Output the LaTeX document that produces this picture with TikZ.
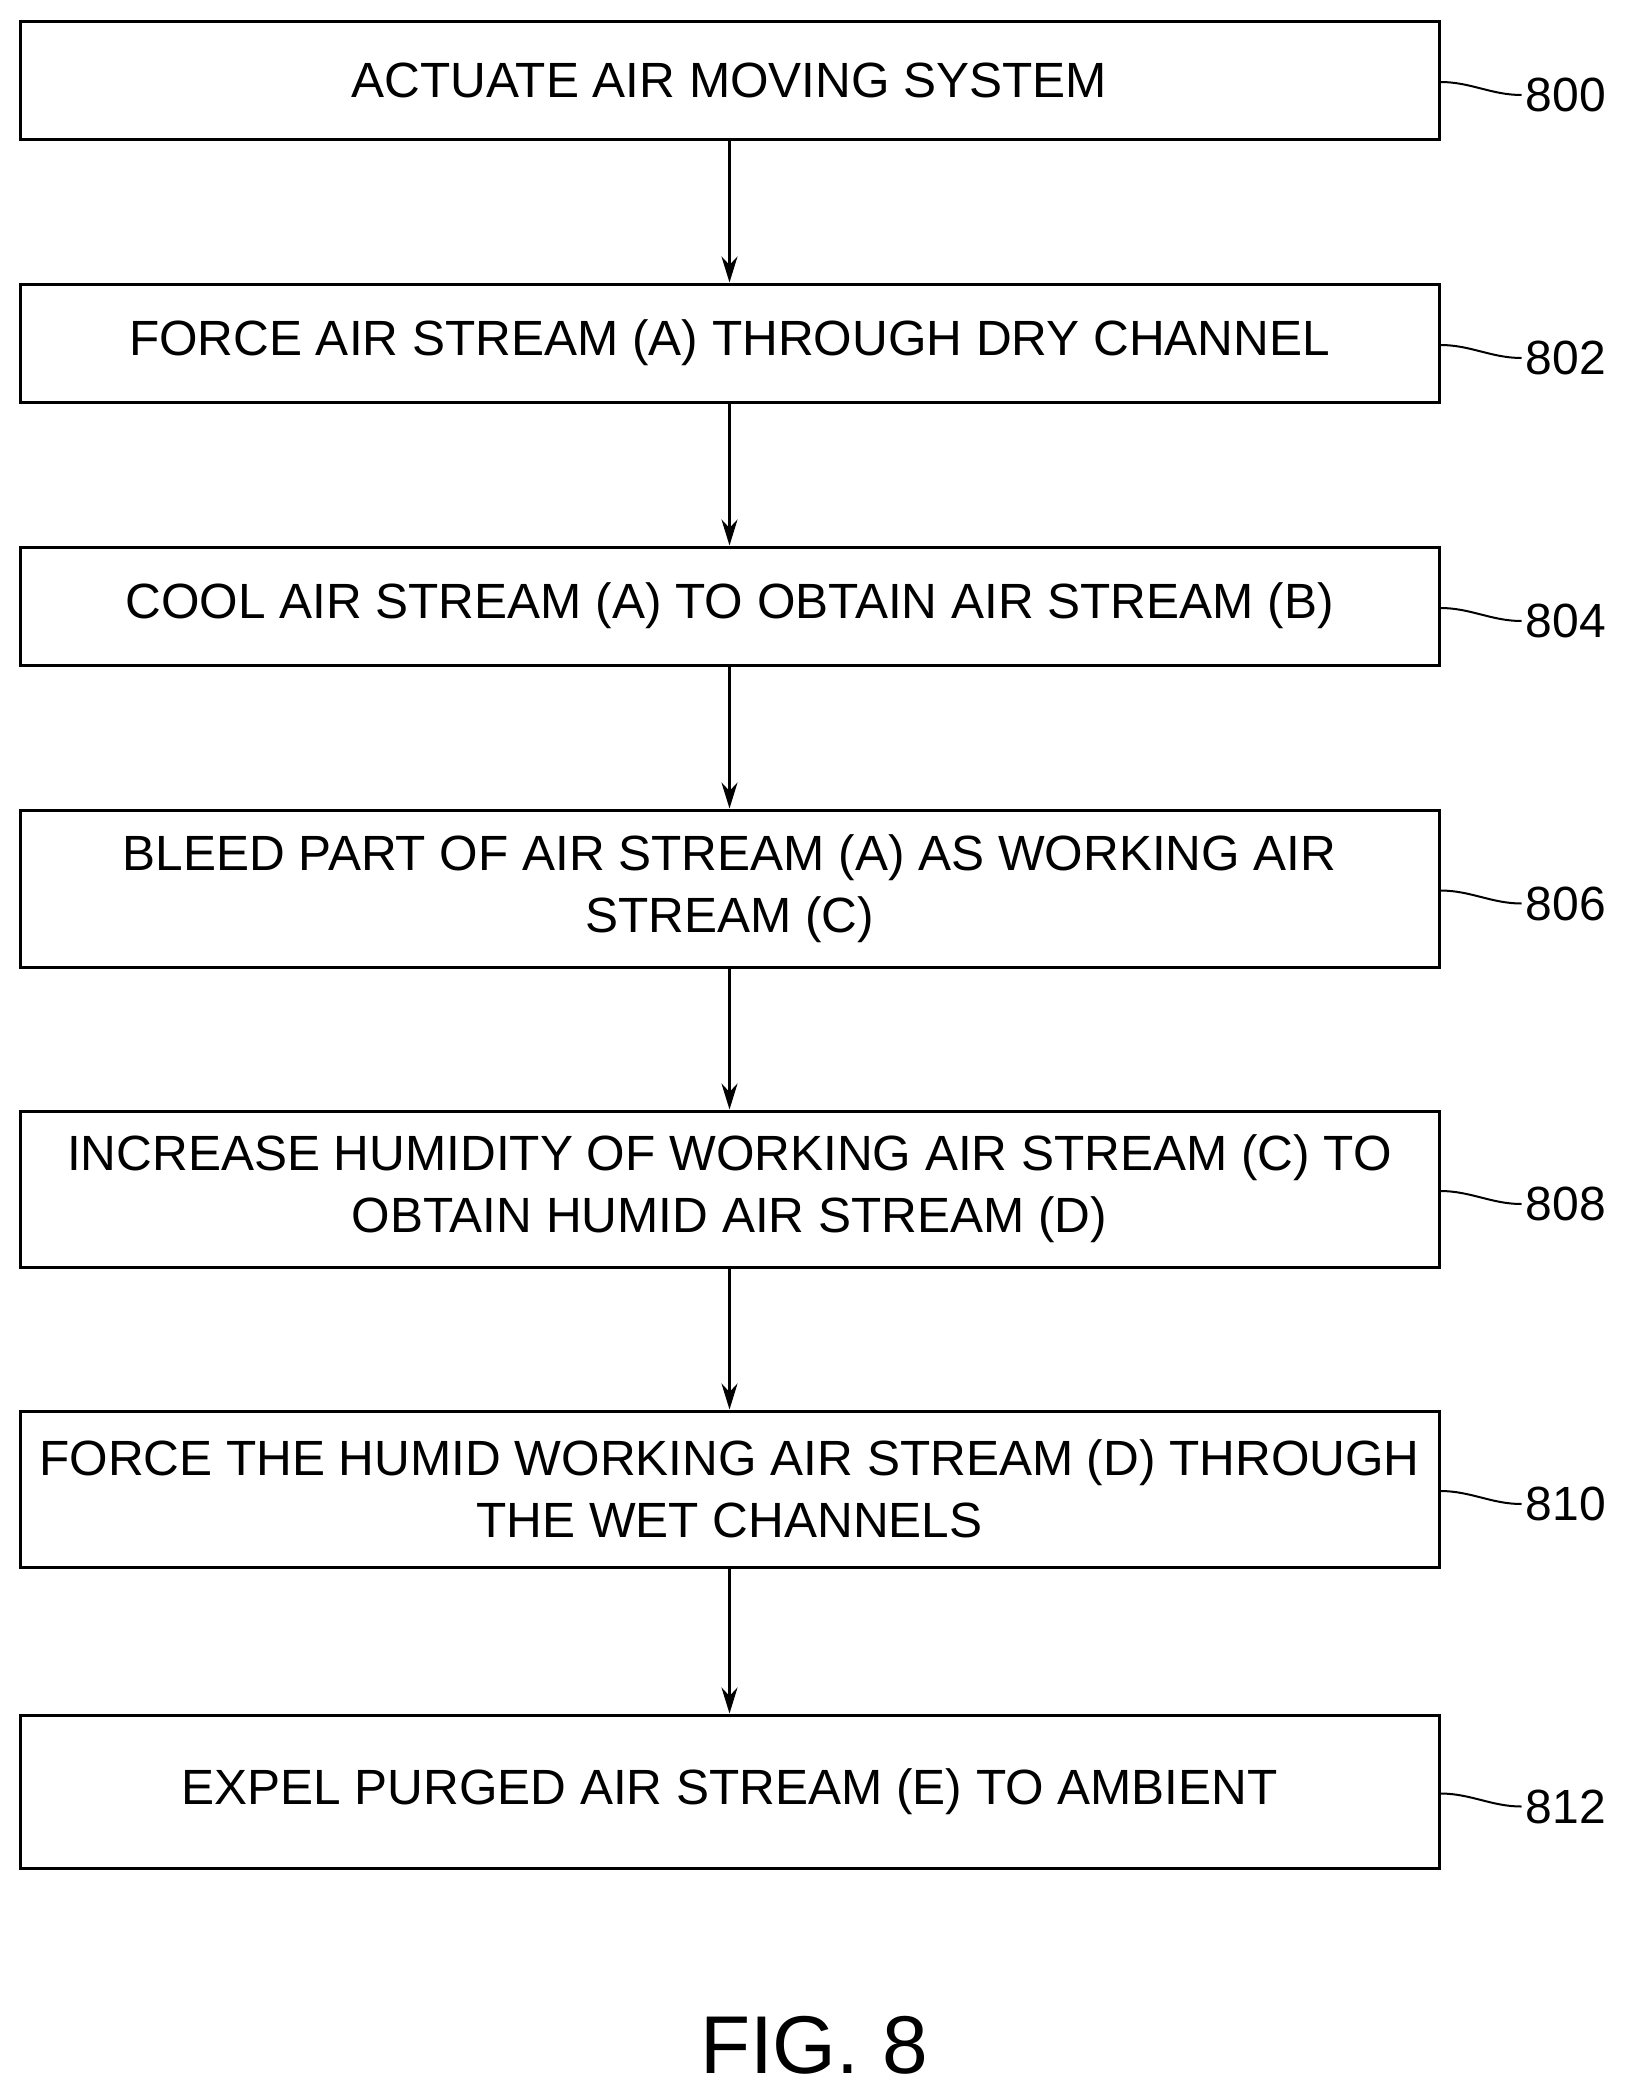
\documentclass[tikz,border=0pt]{standalone}
\usepackage{fontspec}
\setmainfont{Liberation Sans}
\usetikzlibrary{arrows.meta}
\begin{document}
\begin{tikzpicture}[x=1pt,y=-1pt,
  stepbox/.style={draw,line width=3pt,minimum width=1419pt,align=center,font=\fontsize{49.5}{62}\selectfont,inner sep=0pt},
  refl/.style={font=\fontsize{48}{50}\selectfont,anchor=west,inner sep=0pt},
  conn/.style={line width=2.5pt,-{Stealth[length=26pt,width=16pt]}},
  lead/.style={line width=2pt}]
\useasboundingbox (0,0) rectangle (1629,2097);
\def\bx#1#2#3#4{\node[stepbox,minimum height=#3-#2pt] (#1) at (729.5,{(#2+#3)/2}) {#4};}
\bx{b0}{21}{139}{ACTUATE AIR MOVING SYSTEM}
\bx{b2}{284}{402}{FORCE AIR STREAM (A) THROUGH DRY CHANNEL}
\bx{b4}{547}{665}{COOL AIR STREAM (A) TO OBTAIN AIR STREAM (B)}
\bx{b6}{810}{967}{BLEED PART OF AIR STREAM (A) AS WORKING AIR\\STREAM (C)}
\bx{b8}{1111}{1267}{INCREASE HUMIDITY OF WORKING AIR STREAM (C) TO\\OBTAIN HUMID AIR STREAM (D)}
\bx{b10}{1411}{1567}{FORCE THE HUMID WORKING AIR STREAM (D) THROUGH\\THE WET CHANNELS}
\bx{b12}{1715}{1868}{EXPEL PURGED AIR STREAM (E) TO AMBIENT}
\foreach \a/\b in {b0/b2,b2/b4,b4/b6,b6/b8,b8/b10,b10/b12} \draw[conn] (\a.south) -- (\b.north);
\foreach \b/\t in {b0/800,b2/802,b4/804,b6/806,b8/808,b10/810,b12/812}{
  \node[refl] (l\t) at ([xshift=85pt,yshift=-15pt]\b.east) {\t};
  \draw[lead] ([yshift=-2pt]\b.east) .. controls +(30,0) and +(-30,0) .. ([xshift=-4pt]l\t.west);
}
\node[font=\fontsize{82}{90}\selectfont] (fig) at (814,2045) {FIG. 8};
\end{tikzpicture}
\end{document}
